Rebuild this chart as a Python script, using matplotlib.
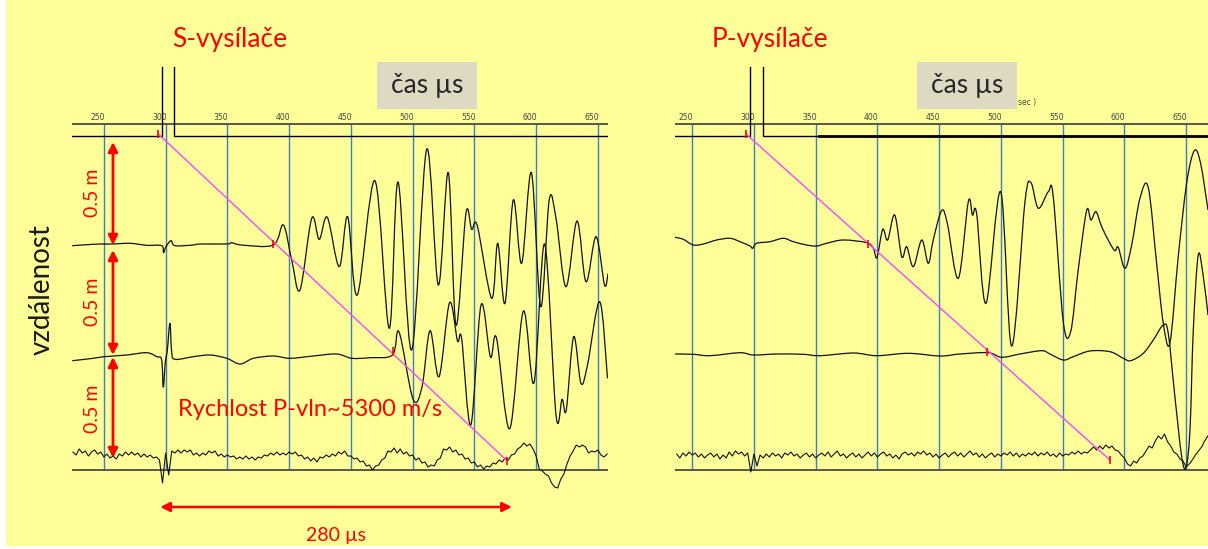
import numpy as np
import matplotlib
matplotlib.use('Agg')
import matplotlib.pyplot as plt
from matplotlib.path import Path
from matplotlib.patches import PathPatch, Rectangle

W, H = 1208, 549
plt.rcParams['font.family'] = ['Lato', 'DejaVu Sans']

# time axis (µs)
ticks = [250, 300, 350, 400, 450, 500, 550, 600, 650]

# ---- S-vysílače (left) ----
# source / trigger trace, saturated between the two steps
ls_t = [229.2, 302.3, 302.3, np.nan, 312.0, 312.0, 663.2]
ls_a = [0, 0, 69, np.nan, 69, 0, 0]

lt2_t = [229.4, 246.4, 255.3, 262.6, 276.2, 289.7, 301.8, 303.3, 305.3, 309.4,
         312.6, 327.4, 332.8, 354.5, 358.5, 366.6, 392.2, 400.3, 407.1, 413.8,
         423.3, 429.4, 435.9, 445.6, 452.4, 460.2, 474.5, 486.1, 493.2, 504.2,
         516.4, 525.8, 533.9, 540.1, 548.2, 552.8, 557.4, 569.0, 573.9, 579.8,
         586.5, 593.3, 601.2, 608.7, 615.6, 621.1, 629.2, 638.1, 645.4, 653.5,
         660.4, 663.2]
lt2_a = [-0.7, 0.7, 1, 1, 1.7, -0.3, -0.7, -7.7, -1.7, 4.3,
         -0.7, 0, 1, 1, 2.3, 0, 0, 20, -15, -45,
         26.7, 5.7, 27.7, -21.7, 28.3, -50, 64.3, -83.3, 63, -105,
         95.7, -40, 72.3, -80, 31.7, 15.7, 19, -53.3, 1.7, -58.3,
         45, -18.3, 72.3, -61.7, 45, 26.7, -41.7, 24, -36.7, 8.3,
         -40, -28.5]

lt3_t = [229.4, 246.4, 255.3, 273.5, 289.7, 297.8, 301.8, 303.1, 304.8, 306.4,
         308.5, 309.9, 312.6, 327.4, 340.9, 354.5, 365.3, 376.1, 392.2, 405.7,
         424.6, 443.5, 455.7, 470.5, 488.7, 494.0, 505.3, 512.6, 519.1, 526.4,
         534.9, 541.3, 544.7, 552.1, 560.4, 568.0, 572.9, 583.6, 594.6, 603.3,
         611.9, 621.1, 626.0, 629.4, 635.4, 641.3, 646.6, 656.5, 662.8]
lt3_a = [-3.7, -1.3, 0.3, 2, 4.3, 0.3, -3, -30.3, -4.7, 7,
         33.7, 5.3, -2.3, 0.3, 2, -1.3, -7, -1.3, 1, -1.3,
         1, 3, -1.3, -0.7, 2, 25, -42, -30, 26.3, -19.7,
         54.3, 16.3, 18.3, -68, 52, 0, 19, -71.7, 45.7, -25.7,
         113, -58, -42.3, -53, 20.3, -26.3, -8, 55.3, -21.3]

# trace at 1.5 m, sampled every 2.5 µs from 230 µs
lt4_t0, lt4_dt = 230.0, 2.5
lt4_a = [3, 0, 6, 2, 4, -1, 3, 5, 1, 3,
         -2, 1, -3, -1, -4, 1, -1, 3, 0, 3,
         0, 2, -2, 1, -2, 0, -3, -2, -5, -28,
         2, -20, 4, 2, 5, 2, 5, 3, 5, 0,
         2, -1, 2, 0, 4, 2, 4, -1, 1, -2,
         0, -2, -1, -4, -2, -4, -1, -4, -2, -5,
         -2, -3, 0, -1, 2, 0, 3, 0, 2, 0,
         3, 1, 3, -1, 0, -4, -2, -6, -3, -7,
         -2, -3, 0, -2, 1, -1, 3, 1, 4, -1,
         -1, -4, -3, -7, -6, -11, -10, -15, -11, -10,
         -5, -3, 4, 3, 7, 2, 6, 1, 3, -1,
         0, -5, -3, -8, -7, -12, -10, -11, -5, -3,
         6, 5, 8, 3, 5, 0, 1, -4, -3, -8,
         -7, -12, -10, -14, -11, -12, -8, -9, -5, -7,
         -3, -5, 0, 1, 6, 8, 12, 9, 11, 6,
         -1, -14, -16, -19, -21, -28, -32, -33, -24, -19,
         -9, -1, 4, 10, 8, 10, 8, 2, 4, 3,
         5, 0, -2, 1]

l_picks = [299.1, 392.2, 488.9, 581.4]
l_pick_a = [2, 1, 6, -5.7]

# ---- P-vysílače (right) ----
rs_t = [241.1, 301.8, 301.8, np.nan, 312.3, 312.3, 672.7]
rs_a = [0, 0, 69, np.nan, 69, 0, 0]

rt2_t = [241.1, 247.8, 255.9, 264.0, 274.9, 285.6, 293.7, 301.8, 304.0, 307.2,
         318.0, 328.8, 336.9, 347.7, 355.8, 363.9, 377.4, 396.3, 401.7, 404.7,
         409.3, 413.3, 419.0, 424.7, 428.7, 434.1, 440.9, 446.2, 450.2, 457.0,
         461.6, 470.5, 478.6, 482.0, 485.4, 492.9, 504.8, 513.7, 524.5, 529.3,
         535.3, 543.4, 547.4, 555.5, 561.5, 567.6, 574.4, 577.9, 582.0, 586.6,
         593.3, 597.4, 600.0, 605.5, 610.9, 617.6, 624.3, 631.1, 636.5, 641.9,
         648.6, 655.4, 661.6, 666.7, 672.7]
rt2_a = [4.7, 2.7, -3, -2, 2, 3.7, 0.3, -4, -6.3, -1.3,
         0.3, 3.7, 0.3, -3, -4, -1.3, 2, -0.7, -6.3, -15.5,
         12.7, 2, 27, -14.7, -4.7, -24.7, 2, -21.3, 2, 31.3,
         18.7, -36.3, 40.3, 27, 28, -61.3, 50.3, -104, 40.3, 59.3,
         33.7, 50.3, 45.3, -79.7, -89.7, -28, 31.3, 22, 30.3, 15.3,
         -1.3, -8.7, -5.3, -26.3, -3, 43.7, 54.7, -21.3, -81.3, -100.7,
         -14.7, 58.7, 91.3, 78.7, 32]

rt3_t = [241.1, 255.9, 269.4, 293.7, 304.5, 323.4, 345.0, 358.5, 385.5, 404.4,
         430.0, 455.7, 471.9, 494.8, 505.6, 520.4, 538.0, 544.7, 555.5, 563.6,
         577.1, 593.3, 604.1, 610.1, 620.3, 628.4, 636.5, 640.5, 645.9, 651.4,
         654.9, 658.1, 660.8, 664.8, 668.9, 672.7]
rt3_a = [0, -0.3, -1.7, 1.3, -1, 0, -0.3, -1.7, 1, -1.7,
         0.7, -2, 0, 1.3, -3.3, 0, 3.3, 0, -6, -2.7,
         3, 2.3, -4.3, -6.7, 0.7, 14, 29, 20.7, -42.7, -102.7,
         -113.3, -76, 24, 99, 77.3, 39]

rt4_t0, rt4_dt = 242.5, 2.5
rt4_a = [2, -2, 3, 0, 4, 1, 3, -1, 2, -2,
         1, 3, -1, 2, -3, 1, -2, 4, 0, 5,
         2, 4, 0, 3, -16, 2, -10, 1, -2, 2,
         -1, 3, 0, 2, -2, 3, 1, 4, 0, 2,
         -2, 1, 3, -1, 2, -2, 1, 3, 0, 4,
         -1, 2, 5, 0, 2, -2, 1, 3, -1, 2,
         -2, 1, 4, 0, 3, -1, 2, 4, 0, 2,
         -2, 1, -3, 2, 4, 1, 3, 0, 4, 2,
         5, 1, 3, -1, 2, -2, 1, 3, -1, 2,
         4, 0, 3, -1, 2, 5, 1, 3, -1, 2,
         -2, 1, 3, -1, 2, 0, 3, 1, 4, 0,
         3, -1, 2, 0, 3, 1, 4, 0, 3, 1,
         4, 0, 2, -1, 3, 0, 2, 1, 4, 2,
         5, 2, 4, 3, 6, 9, 6, 10, 7, 11,
         8, 10, 6, 5, 1, -2, -8, -10, -5, -7,
         -2, 0, 5, 10, 8, 15, 20, 17, 22, 14,
         10, 4, 2, -3, -5, -11, -8, -4, 1, 5,
         9, 15, 20]

r_picks = [298.6, 397.6, 494.0, 593.3]
r_pick_a = [2, -2, 2.3, -4]

# trace baselines on the plot (vertical offsets)
BASE_L = [0, -109, -221, -319]
BASE_R = [0, -106, -218, -320]
TOP_LINE, BOT_LINE = 12, -334


def smooth(ax, t, a, base, **kw):
    # catmull-rom through the read points, drawn as bezier path
    p = np.column_stack([t, np.asarray(a, float) + base])
    verts, codes = [p[0]], [Path.MOVETO]
    n = len(p)
    for i in range(n - 1):
        p0 = p[i - 1] if i > 0 else p[i]
        p1, p2 = p[i], p[i + 1]
        p3 = p[i + 2] if i + 2 < n else p[i + 1]
        verts += [p1 + (p2 - p0) / 6, p2 - (p3 - p1) / 6, p2]
        codes += [Path.CURVE4] * 3
    ax.add_patch(PathPatch(Path(verts, codes), fill=False, **kw))


def panel(ax, tmin, tmax, src_t, src_a, t2, a2, t3, a3, t40, dt4, a4, base, picks, pick_a):
    ax.set_xlim(tmin, tmax)
    ax.set_ylim(-413, 136)
    ax.axis('off')
    ax.axhline(TOP_LINE, color='#4a4a4a', lw=1.3)
    ax.axhline(BOT_LINE, color='#4a4a4a', lw=1.3)
    for tk in ticks:
        ax.vlines(tk + 5, BOT_LINE, TOP_LINE, color='#3d7fc0', lw=1, zorder=1)
        ax.text(tk, 19, str(tk), ha='center', va='center', fontsize=5.5,
                color='#444444', family='DejaVu Sans')
    ax.plot(src_t, src_a, color='black', lw=1, zorder=3)
    smooth(ax, t2, a2, base[1], edgecolor='#111111', lw=0.9, zorder=3)
    smooth(ax, t3, a3, base[2], edgecolor='#111111', lw=0.9, zorder=3)
    t4 = t40 + dt4 * np.arange(len(a4))
    ax.plot(t4, np.array(a4) + base[3], color='#111111', lw=0.8, zorder=3)
    py = [base[i] + pick_a[i] for i in range(4)]
    ax.plot([picks[0], picks[-1]], [py[0], py[-1]], color='#ff44ff', lw=1, zorder=4)
    ax.vlines(picks, np.array(py) - 4, np.array(py) + 4, color='red', lw=1.2, zorder=5)


fig = plt.figure(figsize=(W / 100, H / 100), dpi=100)
fig.patch.set_facecolor('white')
fig.patches.append(Rectangle((6 / W, 3 / H), 1 - 6 / W, 1 - 3 / H, transform=fig.transFigure,
                             facecolor='#ffff99', edgecolor='none', zorder=-10))

ax_l = fig.add_axes([72 / W, 0, (608 - 72) / W, 1])
ax_r = fig.add_axes([675 / W, 0, (1208 - 675) / W, 1])
for a in (ax_l, ax_r):
    a.patch.set_alpha(0)

panel(ax_l, 229.2, 663.2, ls_t, ls_a, lt2_t, lt2_a, lt3_t, lt3_a,
      lt4_t0, lt4_dt, lt4_a, BASE_L, l_picks, l_pick_a)
panel(ax_r, 241.1, 672.7, rs_t, rs_a, rt2_t, rt2_a, rt3_t, rt3_a,
      rt4_t0, rt4_dt, rt4_a, BASE_R, r_picks, r_pick_a)
ax_r.plot([358, 672.7], [0, 0], color='black', lw=2, zorder=3)

# distance arrows and labels
for y0, y1, ym in [(-6, -109, -57), (-114, -219, -166), (-221, -322, -273)]:
    ax_l.annotate('', xy=(262.4, y0), xytext=(262.4, y1),
                  arrowprops=dict(arrowstyle='<|-|>', color='red', lw=2,
                                  mutation_scale=14, shrinkA=0, shrinkB=0),
                  annotation_clip=False)
    ax_l.text(245.4, ym, '0.5 m', rotation=90, ha='center', va='center',
              color='red', fontsize=14)

ax_l.text(315.1, -274, 'Rychlost P-vln~5300 m/s', ha='left', va='center',
          color='red', fontsize=17)
ax_l.annotate('', xy=(300.6, -371), xytext=(585.4, -371),
              arrowprops=dict(arrowstyle='<|-|>', color='red', lw=1.8,
                              mutation_scale=14, shrinkA=0, shrinkB=0),
              annotation_clip=False)
ax_l.text(443, -399, '280 µs', ha='center', va='center', color='red', fontsize=14)

fig.text(42 / W, 1 - 290 / H, 'vzdálenost', rotation=90, ha='center', va='center',
         fontsize=20, color='#1a1a1a')
fig.text(172 / W, 1 - 40 / H, 'S-vysílače', ha='left', va='center', fontsize=19, color='red')
fig.text(712 / W, 1 - 40 / H, 'P-vysílače', ha='left', va='center', fontsize=19, color='red')
fig.text(1018 / W, 1 - 103 / H, 'sec )', ha='left', va='center', fontsize=5.5,
         color='#444444', family='DejaVu Sans')

for bx in (377, 917):
    fig.patches.append(Rectangle((bx / W, 1 - 109 / H), 100 / W, 47 / H, transform=fig.transFigure,
                                 facecolor='#ddd9c3', edgecolor='none', zorder=5))
    fig.text((bx + 50) / W, 1 - 86 / H, 'čas µs', ha='center', va='center',
             fontsize=19, color='#262626', zorder=6)

fig.savefig('out.png', dpi=100)
